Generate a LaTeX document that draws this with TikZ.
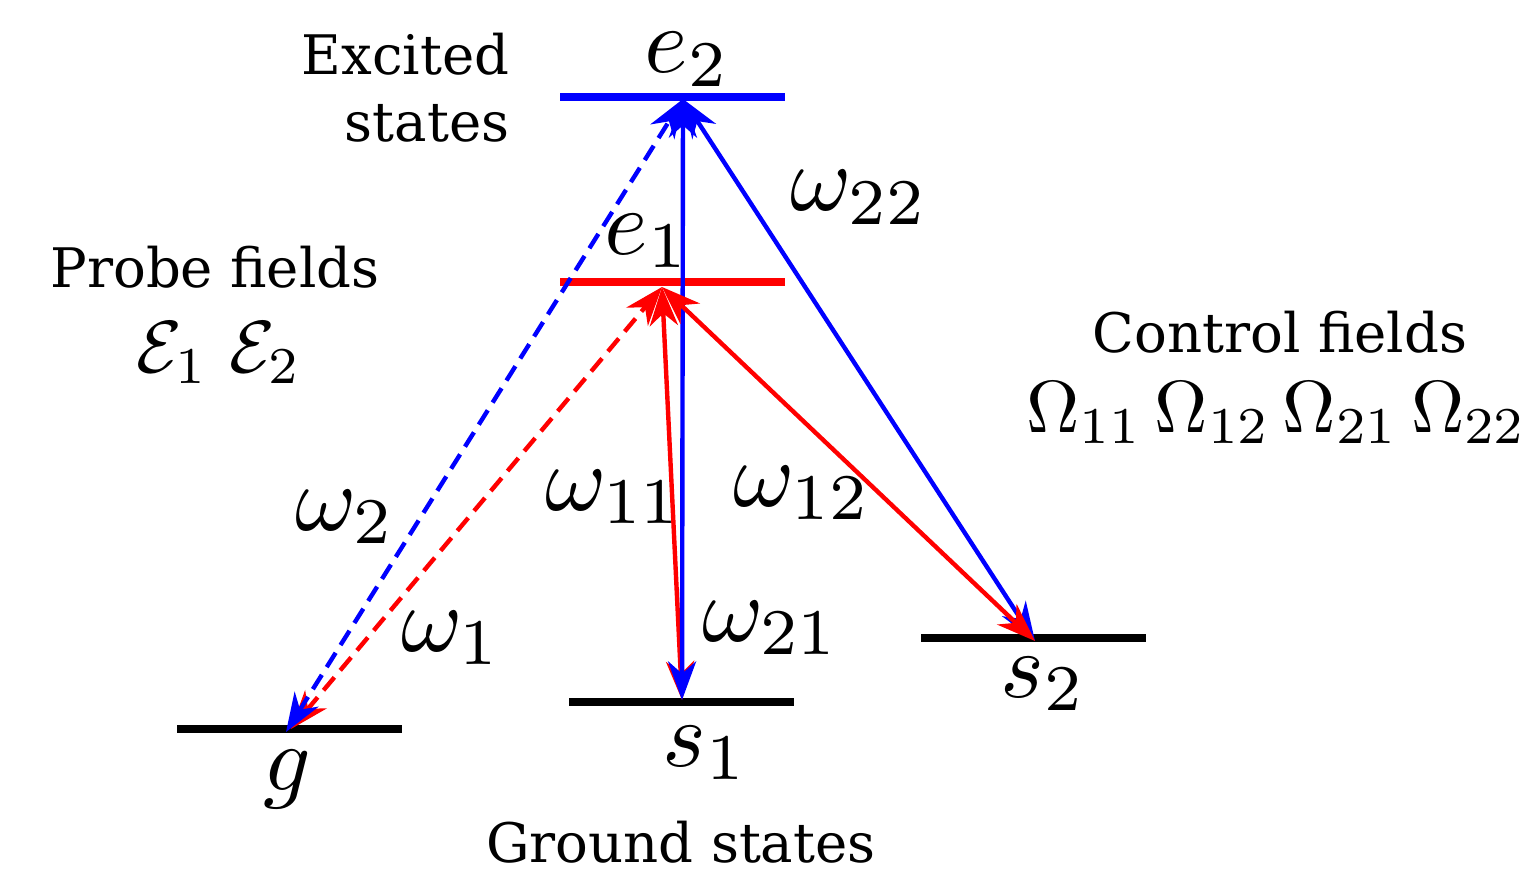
\documentclass[tikz,border=0pt]{standalone}
\usepackage[no-math]{fontspec}
\setmainfont{DejaVu Serif}
\usetikzlibrary{arrows.meta}
\begin{document}
\begin{tikzpicture}[x=0.01cm,y=-0.01cm,
  level/.style={draw=none,inner sep=0pt,minimum width=2.25cm,minimum height=0.08cm},
  tarr/.style={line width=1.25pt,{Stealth[length=11pt,width=8pt,inset=3.5pt]}-{Stealth[length=11pt,width=8pt,inset=3.5pt]}},
  dsh/.style={dash pattern=on 4.8pt off 2.6pt},
  txt/.style={anchor=base,inner sep=0pt,font=\fontsize{15.5}{18}\selectfont},
  big/.style={anchor=base west,inner sep=0pt,font=\fontsize{10}{12}\selectfont,scale=2.65,transform shape},
  mid/.style={anchor=base west,inner sep=0pt,font=\fontsize{10}{12}\selectfont,scale=2.1,transform shape}]
\useasboundingbox (0,0) rectangle (1540,879);
% levels
\node[level,fill=blue] (e2) at (672.5,97) {};
\node[level,fill=red] (e1) at (672.5,282) {};
\node[level,fill=black] (g) at (289.5,729) {};
\node[level,fill=black] (s1) at (681.5,702) {};
\node[level,fill=black] (s2) at (1033.5,638) {};
% arrow end points
\coordinate (e2a) at (683,99);
\coordinate (e1a) at (662,287);
\coordinate (ga) at (286,732);
\coordinate (gb) at (291,729);
\coordinate (s1a) at (682,700);
\coordinate (s2a) at (1035,641);
% arrows
\draw[tarr,red,dsh] (gb) -- (e1a);
\draw[tarr,blue,dsh] (ga) -- (e2a);
\draw[tarr,red] (e1a) -- (s1a);
\draw[tarr,blue] (e2a) -- (s1a);
\draw[tarr,blue] (e2a) -- (s2a);
\draw[tarr,red] (e1a) -- (s2a);
% labels
\node[txt,anchor=base east] (exc) at (510,75) {Excited};
\node[txt,anchor=base east] (sta) at (510,142) {states};
\node[big] (le2) at (643,73) {$e_2$};
\node[big] (le1) at (603,254) {$e_1$};
\node[txt] (probe) at (215,287) {Probe fields};
\node[mid] (calE) at (135,372) {$\mathcal{E}_1\;\mathcal{E}_2$};
\node[big] (w22) at (789,211) {$\omega_{22}$};
\node[txt] (ctrl) at (1280,352) {Control fields};
\node[mid] (Om) at (1025,432) {$\Omega_{11}\,\Omega_{12}\,\Omega_{21}\,\Omega_{22}$};
\node[big] (w2) at (294,530) {$\omega_2$};
\node[big] (w1) at (400,651) {$\omega_1$};
\node[big] (w11) at (544,510) {$\omega_{11}$};
\node[big] (w12) at (732,506) {$\omega_{12}$};
\node[big] (w21) at (701,641) {$\omega_{21}$};
\node[big] (lg) at (262,790) {$g$};
\node[big] (ls1) at (661,766) {$s_1$};
\node[big] (ls2) at (999,697) {$s_2$};
\node[txt] (ground) at (681,862) {Ground states};
\end{tikzpicture}
\end{document}
